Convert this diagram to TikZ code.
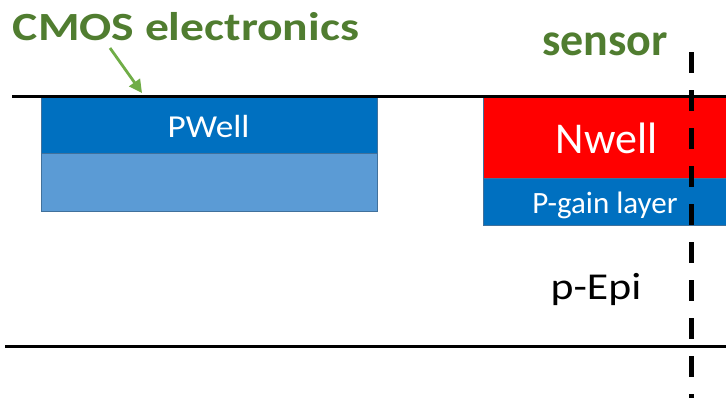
\documentclass[tikz,border=0pt]{standalone}
\usepackage{fontspec}
\setmainfont{Carlito}
\usetikzlibrary{arrows.meta}
\definecolor{labelgreen}{HTML}{507D30}
\definecolor{arrowgreen}{HTML}{70AD47}
\definecolor{welldark}{HTML}{0070C0}
\definecolor{welllight}{HTML}{5B9BD5}
\definecolor{welledge}{HTML}{41719C}
\definecolor{nred}{HTML}{FF0000}
\tikzset{
  layer/.style={draw=welledge, line width=1pt, anchor=north west, inner sep=0pt, outer sep=0pt},
  title/.style={text=labelgreen, inner sep=0pt, anchor=base},
  inlabel/.style={text=white, inner sep=0pt, anchor=base},
  boundary/.style={line width=3pt},
}
\begin{document}
\begin{tikzpicture}[x=1pt, y=-1pt]
  \useasboundingbox (0,0) rectangle (726,397);
  \clip (0,0) rectangle (726,397);

  % CMOS electronics stack
  \node[layer, fill=welldark, minimum width=336pt, minimum height=56pt] (pwell) at (41,97) {};
  \node[layer, fill=welllight, minimum width=336pt, minimum height=58pt] (pbulk) at (41,153) {};
  \node[inlabel, font=\fontsize{32}{34}\selectfont] (pwelltxt) at (208.5,137)
    {\scalebox{1.1}[1]{PWell}};

  % sensor stack
  \node[layer, fill=nred, minimum width=260pt, minimum height=81pt] (nwell) at (483,97) {};
  \node[layer, fill=welldark, minimum width=260pt, minimum height=47pt] (pgain) at (483,178) {};
  \node[inlabel, font=\fontsize{44}{46}\selectfont] (nwelltxt) at (606.5,153) {Nwell};
  \node[inlabel, font=\fontsize{31}{33}\selectfont] (pgaintxt) at (605,213) {P-gain layer};

  % epitaxial layer boundaries
  \coordinate (topL) at (12,96);
  \coordinate (topR) at (730,96);
  \coordinate (botL) at (5,346);
  \coordinate (botR) at (730,346);
  \draw[boundary] (topL) -- (topR);
  \draw[boundary] (botL) -- (botR);
  \node[inner sep=0pt, anchor=base, font=\fontsize{38}{40}\selectfont] (epi) at (596,299)
    {\scalebox{1.15}[1]{p-Epi}};

  % region titles
  \node[title, font=\bfseries\fontsize{40}{42}\selectfont] (cmos) at (186,40)
    {\scalebox{1.19}[1]{CMOS electronics}};
  \node[title, font=\bfseries\fontsize{46}{48}\selectfont] (sensor) at (605,55) {sensor};
  \coordinate (cmostip) at (142,93);
  \draw[arrowgreen, line width=2.8pt, -{Triangle[length=13pt, width=13pt]}] (110,48) -- (cmostip);

  % divider between the two regions
  \coordinate (divtop) at (691.5,52);
  \coordinate (divbot) at (691.5,400);
  \draw[line width=4.5pt, dash pattern=on 21pt off 17pt] (divtop) -- (divbot);
\end{tikzpicture}
\end{document}
